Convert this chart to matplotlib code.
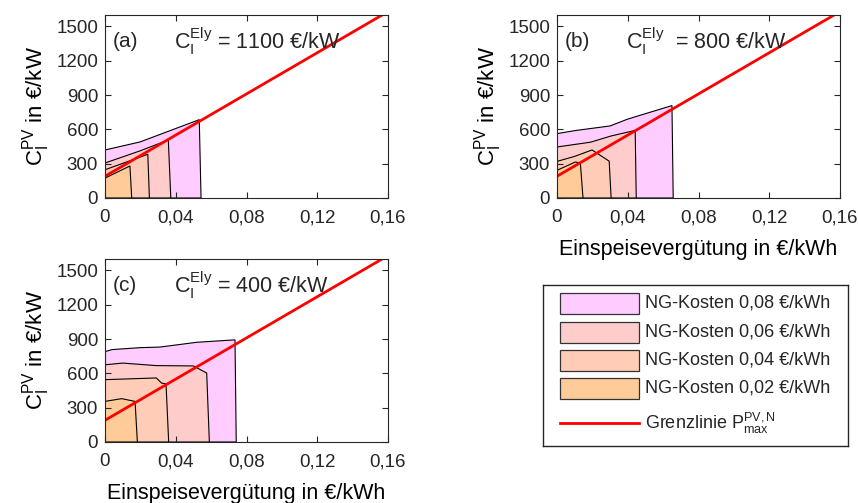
import matplotlib
matplotlib.use("Agg")
import matplotlib.pyplot as plt
from matplotlib.patches import Rectangle

plt.rcParams['font.family'] = ['Liberation Sans', 'DejaVu Sans']
plt.rcParams['mathtext.fontset'] = 'custom'
plt.rcParams['mathtext.rm'] = 'Liberation Sans'
plt.rcParams['mathtext.it'] = 'Liberation Sans:italic'
plt.rcParams['mathtext.bf'] = 'Liberation Sans:bold'
plt.rcParams['text.color'] = '#262626'

# Einspeiseverguetung (x) and C_I^PV (y) of each area's upper boundary;
# *_end is where the area drops back to zero
# --- (a) C_I^Ely = 1100 EUR/kW
a_x08 = [0, 0.0198, 0.0533]
a_y08 = [420, 490, 685]
a_end08 = 0.0543
a_x06 = [0, 0.0198, 0.0358]
a_y06 = [306, 412, 507]
a_end06 = 0.0372
a_x04 = [0, 0.0242]
a_y04 = [247, 382]
a_end04 = 0.0251
a_x02 = [0, 0.0141]
a_y02 = [174, 280]
a_end02 = 0.0151

# --- (b) C_I^Ely = 800 EUR/kW
b_x08 = [0, 0.0105, 0.0300, 0.0400, 0.0650]
b_y08 = [563, 590, 630, 690, 808]
b_end08 = 0.0657
b_x06 = [0, 0.0190, 0.0305, 0.0442]
b_y06 = [446, 488, 542, 591]
b_end06 = 0.0448
b_x04 = [0, 0.0100, 0.0198, 0.0295]
b_y04 = [320, 364, 420, 322]
b_end04 = 0.0306
b_x02 = [0, 0.0104, 0.0132]
b_y02 = [242, 315, 306]
b_end02 = 0.0147

# --- (c) C_I^Ely = 400 EUR/kW
c_x08 = [0, 0.004, 0.020, 0.031, 0.052, 0.0735]
c_y08 = [790, 808, 825, 830, 872, 893]
c_end08 = 0.0742
c_x06 = [0, 0.010, 0.029, 0.050, 0.0575]
c_y06 = [675, 690, 668, 665, 603]
c_end06 = 0.059
c_x04 = [0, 0.029, 0.032, 0.0345]
c_y04 = [545, 560, 515, 508]
c_end04 = 0.036
c_x02 = [0, 0.0094, 0.017]
c_y02 = [355, 379, 355]
c_end02 = 0.0183

# Grenzlinie P_max^PV,N (same in all panels)
grenz_x = [0, 0.16]
grenz_y = [190, 1630]

ng_labels = ['NG-Kosten 0,08 €/kWh', 'NG-Kosten 0,06 €/kWh',
             'NG-Kosten 0,04 €/kWh', 'NG-Kosten 0,02 €/kWh']
ng_colors = ['#ffccff', '#ffcccc', '#ffccb8', '#ffcc99']
grenz_label = r'Grenzlinie $\mathrm{P_{max}^{PV,N}}$'

x_ticks = [0, 0.04, 0.08, 0.12, 0.16]
x_ticklabels = ['0', '0,04', '0,08', '0,12', '0,16']
y_ticks = [0, 300, 600, 900, 1200, 1500]

GREY = '#262626'
RED = '#ff0000'


def draw_panel(ax, areas, tag, ely_text, xlabel=False):
    # largest area first so the smaller ones sit on top
    for (xs, ys, x_end), col in zip(areas, ng_colors):
        px = [0] + xs + [x_end]
        py = [0] + ys + [0]
        ax.fill(px, py, facecolor=col, edgecolor='black', linewidth=0.8)
    ax.plot(grenz_x, grenz_y, color=RED, linewidth=2)

    ax.set_xlim(0, 0.16)
    ax.set_ylim(0, 1600)
    ax.set_xticks(x_ticks)
    ax.set_xticklabels(x_ticklabels)
    ax.set_yticks(y_ticks)
    ax.tick_params(direction='in', top=True, right=True, length=4,
                   width=0.8, colors=GREY, labelsize=13.5)
    ax.tick_params(axis='x', pad=8)
    ax.tick_params(axis='y', pad=5)
    for s in ax.spines.values():
        s.set_color(GREY)
        s.set_linewidth(0.8)
    ax.set_ylabel(r'$\mathrm{C_I^{PV}}$ in €/kW', fontsize=16, labelpad=3)
    if xlabel:
        ax.set_xlabel('Einspeisevergütung in €/kWh', fontsize=15.5, labelpad=9)
    ax.text(0.028, 0.855, tag, transform=ax.transAxes, fontsize=15,
            va='center', ha='left')
    ax.text(0.245, 0.855, ely_text, transform=ax.transAxes, fontsize=15.5,
            va='center', ha='left')


fig = plt.figure(figsize=(8.58, 5.03), dpi=100)
W, H = 858.0, 503.0
ax_a = fig.add_axes([105 / W, 1 - 198 / H, 283 / W, 183 / H])
ax_b = fig.add_axes([557 / W, 1 - 198 / H, 283 / W, 183 / H])
ax_c = fig.add_axes([105 / W, 1 - 442 / H, 283 / W, 183 / H])

draw_panel(ax_a,
           [(a_x08, a_y08, a_end08), (a_x06, a_y06, a_end06),
            (a_x04, a_y04, a_end04), (a_x02, a_y02, a_end02)],
           '(a)', r'$\mathrm{C_I^{Ely}}$ = 1100 €/kW')
draw_panel(ax_b,
           [(b_x08, b_y08, b_end08), (b_x06, b_y06, b_end06),
            (b_x04, b_y04, b_end04), (b_x02, b_y02, b_end02)],
           '(b)', r'$\mathrm{C_I^{Ely}}$  = 800 €/kW', xlabel=True)
draw_panel(ax_c,
           [(c_x08, c_y08, c_end08), (c_x06, c_y06, c_end06),
            (c_x04, c_y04, c_end04), (c_x02, c_y02, c_end02)],
           '(c)', r'$\mathrm{C_I^{Ely}}$ = 400 €/kW', xlabel=True)

# shared legend box in the empty lower right corner, laid out in pixels
ax_leg = fig.add_axes([543 / W, 1 - 446 / H, 305 / W, 161 / H])
ax_leg.set_xlim(0, 305)
ax_leg.set_ylim(161, 0)
ax_leg.set_xticks([])
ax_leg.set_yticks([])
for s in ax_leg.spines.values():
    s.set_color(GREY)
    s.set_linewidth(1.0)

row_y = [18, 47, 75, 103]
for yc, col, lab in zip(row_y, ng_colors, ng_labels):
    ax_leg.add_patch(Rectangle((17, yc - 10.5), 79, 21, facecolor=col,
                               edgecolor='#333333', linewidth=0.9))
    ax_leg.text(102, yc, lab, fontsize=13, va='center', ha='left')
ax_leg.plot([17, 96], [138, 138], color=RED, linewidth=2)
ax_leg.text(102, 138, grenz_label, fontsize=13, va='center', ha='left')

fig.savefig('out.png', dpi=100)
